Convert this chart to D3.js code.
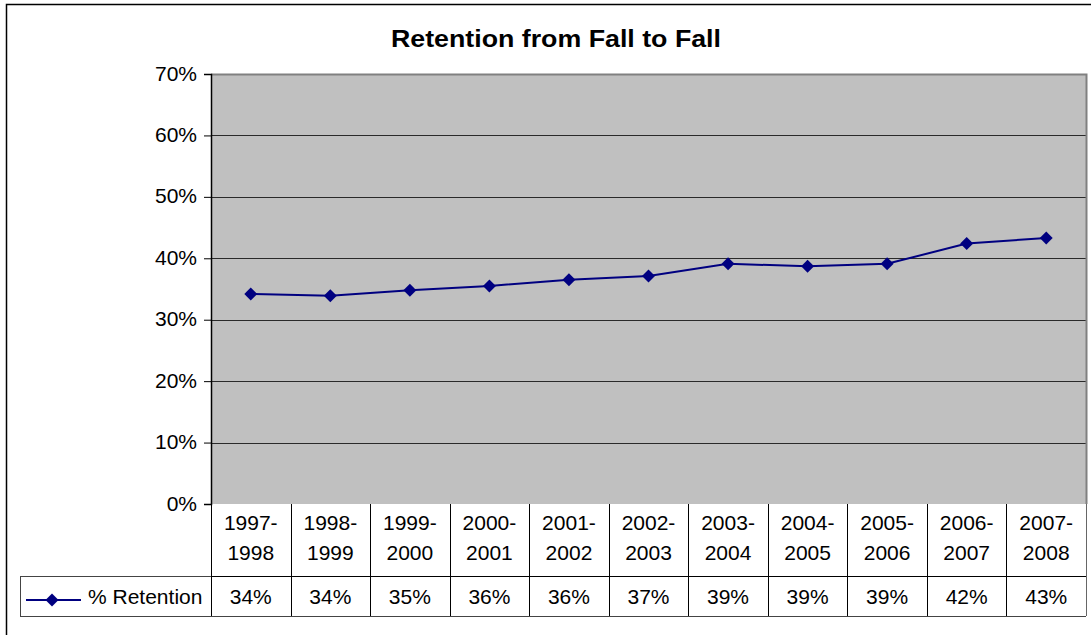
<!DOCTYPE html>
<html><head><meta charset="utf-8">
<script src="https://cdn.jsdelivr.net/npm/d3@7"></script>
<style>body{margin:0;background:#fff}svg{display:block;font-family:Arial,"Liberation Sans",sans-serif}</style>
</head><body><svg id="c" width="1091" height="635"></svg>
<script>
const categories = [["1997-","1998"],["1998-","1999"],["1999-","2000"],["2000-","2001"],["2001-","2002"],["2002-","2003"],["2003-","2004"],["2004-","2005"],["2005-","2006"],["2006-","2007"],["2007-","2008"]];
const retention = [34.2, 33.9, 34.8, 35.5, 36.5, 37.1, 39.1, 38.7, 39.1, 42.4, 43.3];
const tableLabels = ["34%","34%","35%","36%","36%","37%","39%","39%","39%","42%","43%"];
const yTicks = [0,10,20,30,40,50,60,70];
const seriesName = "% Retention";
const title = "Retention from Fall to Fall";

const FONT = "Arial, 'Liberation Sans', sans-serif";
const svg = d3.select("#c");
const L = 211, R = 1086, T = 74, B = 504;
const x = d3.scaleBand().domain(d3.range(categories.length)).range([L, R]);
const y = d3.scaleLinear().domain([0, 70]).range([B, T]);

// outer border
svg.append("rect").attr("x",6.5).attr("y",4.5).attr("width",1100).attr("height",640)
  .attr("fill","none").attr("stroke","#000").attr("stroke-width",1.5);

// title
svg.append("text").attr("x",556).attr("y",47).attr("text-anchor","middle")
  .attr("font-size",24).attr("font-weight","bold")
  .attr("textLength",330).attr("lengthAdjust","spacingAndGlyphs").text(title);

// plot area
svg.append("rect").attr("x",L).attr("y",T).attr("width",R-L).attr("height",B-T).attr("fill","#c0c0c0");

// gridlines
svg.append("g").selectAll("line").data(yTicks.filter(d=>d>0 && d<70)).join("line")
  .attr("x1",L).attr("x2",R).attr("y1",d=>Math.round(y(d))+0.5).attr("y2",d=>Math.round(y(d))+0.5)
  .attr("stroke","#2a2a2a").attr("stroke-width",1);

// plot border top & right (gray)
svg.append("path").attr("d",`M${L},${T+0.5}H${R+0.5}V${B}`).attr("fill","none").attr("stroke","#808080").attr("stroke-width",2);

// y axis
const yAxis = d3.axisLeft(y).tickValues(yTicks).tickFormat(d=>d+"%").tickSize(7).tickPadding(7);
const gy = svg.append("g").attr("transform",`translate(${L},0)`).call(yAxis);
gy.attr("font-size",21).attr("font-family",FONT);
gy.select(".domain").attr("stroke","#000").attr("stroke-width",1.5);
gy.selectAll(".tick line").attr("stroke","#000");
gy.selectAll(".tick text").attr("fill","#000").attr("dy","6px");

// series line
const line = d3.line().x((d,i)=>x(i)+x.bandwidth()/2).y(d=>y(d));
svg.append("path").datum(retention).attr("d",line).attr("fill","none").attr("stroke","#000080").attr("stroke-width",2);
svg.append("g").selectAll("path").data(retention).join("path")
  .attr("d",d3.symbol().type(d3.symbolSquare).size(84))
  .attr("transform",(d,i)=>`translate(${x(i)+x.bandwidth()/2},${y(d)}) rotate(45)`)
  .attr("fill","#000080");

// data table
const r1 = B, r2 = 576, r3 = 616;
const tg = svg.append("g").attr("fill","none").attr("stroke","#000").attr("stroke-width",1);
tg.append("line").attr("x1",L).attr("x2",R).attr("y1",r2+0.5).attr("y2",r2+0.5);
tg.append("line").attr("x1",20).attr("x2",R).attr("y1",r3+0.5).attr("y2",r3+0.5).attr("stroke","#444");
tg.append("line").attr("x1",20).attr("x2",L).attr("y1",r2+0.5).attr("y2",r2+0.5).attr("stroke","#444");
tg.append("line").attr("x1",20.5).attr("x2",20.5).attr("y1",r2).attr("y2",r3).attr("stroke","#444");
const vx = d3.range(categories.length+1).map(i=> i<categories.length ? x(i) : R);
tg.selectAll("line.v").data(vx).join("line").attr("class","v")
  .attr("x1",d=>Math.round(d)+0.5).attr("x2",d=>Math.round(d)+0.5).attr("y1",r1).attr("y2",r3)
  .attr("stroke",(d,i)=> i===categories.length ? "#666":"#000");

// category labels and values
const cg = svg.append("g").attr("font-size",21).attr("font-family",FONT).attr("text-anchor","middle").attr("fill","#000");
categories.forEach((c,i)=>{
  const cx = x(i)+x.bandwidth()/2;
  cg.append("text").attr("x",cx).attr("y",530).text(c[0]);
  cg.append("text").attr("x",cx).attr("y",560).text(c[1]);
  cg.append("text").attr("x",cx).attr("y",604).text(tableLabels[i]);
});

// legend key
svg.append("line").attr("x1",26).attr("x2",81).attr("y1",600).attr("y2",600).attr("stroke","#000080").attr("stroke-width",2);
svg.append("path").attr("d",d3.symbol().type(d3.symbolSquare).size(84)).attr("transform","translate(52,600) rotate(45)").attr("fill","#000080");
svg.append("text").attr("x",88).attr("y",604).attr("font-size",21).attr("font-family",FONT).attr("fill","#000").text(seriesName);
</script></body></html>
